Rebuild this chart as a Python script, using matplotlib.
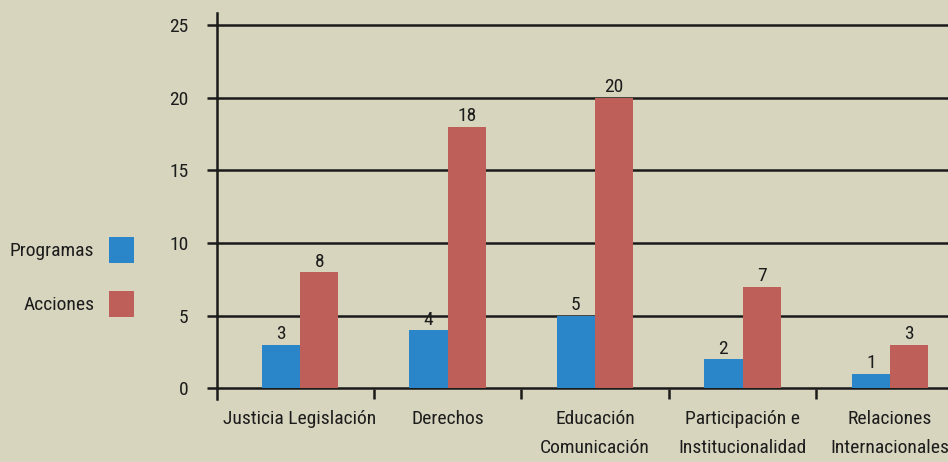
import matplotlib.pyplot as plt
import numpy as np

# datos
categorias = ["Justicia Legislación", "Derechos", "Educación\nComunicación",
              "Participación e\nInstitucionalidad", "Relaciones\nInternacionales"]
programas = [3, 4, 5, 2, 1]
acciones = [8, 18, 20, 7, 3]
yticks = [0, 5, 10, 15, 20, 25]

fondo = "#d8d5bf"
azul = "#2a86c8"
rojo = "#bf5f5a"
texto = "#1c1c1c"

plt.rcParams['font.family'] = ['Roboto Condensed', 'DejaVu Sans']
plt.rcParams['font.size'] = 14

fig = plt.figure(figsize=(9.48, 4.62), dpi=100, facecolor=fondo)
ax = fig.add_axes([217 / 948, 63 / 462, 1 - 217 / 948, (462 - 13 - 63) / 462])
ax.set_facecolor(fondo)

x = np.arange(len(categorias))
w = 0.26
b1 = ax.bar(x - w / 2, programas, w, color=azul, label="Programas", zorder=3)
b2 = ax.bar(x + w / 2, acciones, w, color=rojo, label="Acciones", zorder=3)
for barras in (b1, b2):
    ax.bar_label(barras, padding=1, fontsize=14, color=texto)

ax.set_ylim(-0.73, 25.83)
ax.set_xlim(-0.563, 4.393)
ax.set_yticks(yticks)
ax.yaxis.grid(True, color="#1a1a1a", linewidth=1.8, zorder=1)
ax.set_axisbelow(True)
ax.tick_params(axis='y', length=7.2, width=1.8, color="#1a1a1a", pad=13.5, labelcolor=texto)

ax.set_xticks(x)
ax.set_xticklabels(categorias, color=texto, linespacing=1.8)
ax.set_xticks(x[:-1] + 0.5, minor=True)
ax.tick_params(axis='x', which='major', length=0, pad=8)
ax.tick_params(axis='x', which='minor', direction='in', length=7.2, width=1.8, color="#1a1a1a")

for s in ['top', 'right', 'bottom']:
    ax.spines[s].set_visible(False)
ax.spines['left'].set_linewidth(1.8)
ax.spines['left'].set_color("#1a1a1a")

fig.legend(loc='center right', bbox_to_anchor=(144 / 948, 1 - 277 / 462),
           markerfirst=False, frameon=False, borderpad=0, handlelength=1.3,
           handleheight=1.7, handletextpad=0.75, labelspacing=1.44,
           labelcolor=texto, fontsize=14)

fig.savefig("out.png", dpi=100, facecolor=fondo)
